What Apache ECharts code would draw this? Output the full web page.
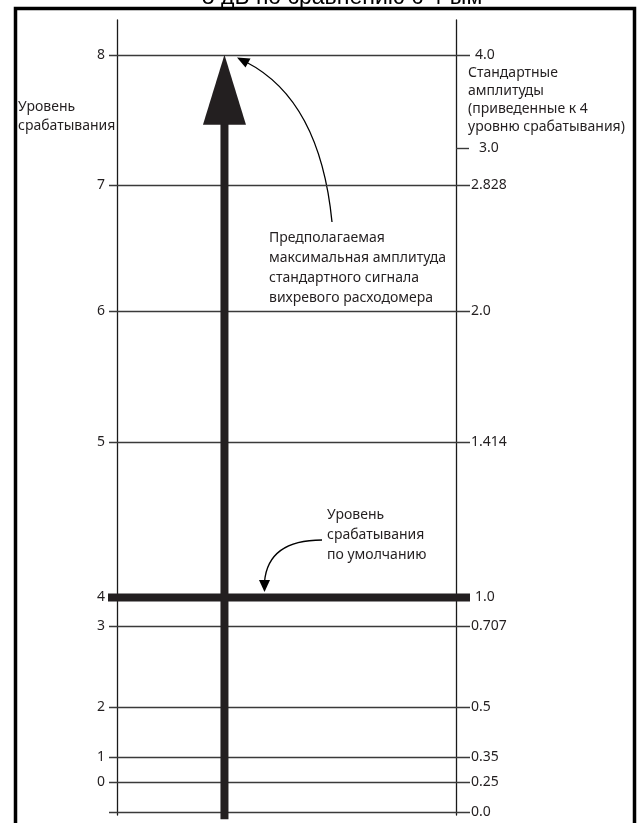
<!DOCTYPE html>
<html><head><meta charset="utf-8">
<script src="https://cdn.jsdelivr.net/npm/echarts@6/dist/echarts.min.js"></script>
<style>html,body{margin:0;padding:0;background:#fff}#c{width:639px;height:823px}</style>
</head><body><div id="c"></div>
<script>
// ---- data ----
const levels      = ['8', '7', '6', '5', '4', '3', '2', '1', '0', ''];
const amplitudes  = ['4.0', '2.828', '2.0', '1.414', '1.0', '0.707', '0.5', '0.35', '0.25', '0.0'];
const rowHeights  = [100, 82.76, 66.12, 48.81, 28.34, 24.5, 13.8, 7.2, 3.9, 0]; // diagram scale
const extraTickLabel = '3.0';
const extraTickHeight = 87.65;
const defaultLevel = '4';
const titleText = '8 дБ по сравнению с 4-ым';
const leftCaption = 'Уровень\nсрабатывания';
const rightCaption = 'Стандартные\nамплитуды\n(приведенные к 4\nуровню срабатывания)';
const maxCaption = 'Предполагаемая\nмаксимальная амплитуда\nстандартного сигнала\nвихревого расходомера';
const defaultCaption = 'Уровень\nсрабатывания\nпо умолчанию';

// ---- layout ----
const arrowAt = {x: 31.7, bottom: -0.95};
const ink = '#231f20', lineCol = '#3a3a3a';
const FONT = '"Noto Sans", sans-serif';

const chart = echarts.init(document.getElementById('c'));
const yAx = (pos) => ({type: 'value', min: -0.4, max: 104.6, position: pos,
  axisLine: {show: true, lineStyle: {color: '#1a1a1a', width: 1.3}},
  axisTick: {show: false}, axisLabel: {show: false}, splitLine: {show: false}});

const option = {
  animation: false,
  backgroundColor: '#fff',
  grid: {left: 117, right: 183, top: 20, bottom: 8},
  xAxis: {type: 'value', min: 0, max: 100, show: false},
  yAxis: [yAx('left'), yAx('right')],
  series: [
    {
      type: 'custom', clip: false, z: 2,
      data: rowHeights.map((h, i) => [0, h, i]),
      renderItem(params, api) {
        const h = api.value(1), i = api.value(2);
        const L = api.coord([0, h]), R = api.coord([100, h]);
        const thick = levels[i] === defaultLevel;
        const y = Math.round(L[1]) + 0.5;
        return {type: 'group', children: [
          {type: 'line', shape: {x1: L[0] - (thick ? 9 : 8), y1: y, x2: R[0] + 14, y2: y},
           style: {stroke: thick ? ink : lineCol, lineWidth: thick ? 8 : 1.4}},
          {type: 'text', style: {text: levels[i], x: L[0] - 12, y: y, align: 'right', verticalAlign: 'middle',
            font: '14px ' + FONT, fill: ink}},
          {type: 'text', style: {text: amplitudes[i], x: R[0] + ((thick || i === 0) ? 19 : 15), y: y, align: 'left', verticalAlign: 'middle',
            font: '14px ' + FONT, fill: ink}}
        ]};
      }
    },
    {
      type: 'custom', clip: false, z: 2,
      data: [[100, extraTickHeight]],
      renderItem(params, api) {
        const R = api.coord([100, api.value(1)]);
        const y = Math.round(R[1]) + 0.5;
        return {type: 'group', children: [
          {type: 'line', shape: {x1: R[0], y1: y, x2: R[0] + 13, y2: y}, style: {stroke: lineCol, lineWidth: 1.4}},
          {type: 'text', style: {text: extraTickLabel, x: R[0] + 23, y: y, align: 'left', verticalAlign: 'middle',
            font: '14px ' + FONT, fill: ink}}
        ]};
      }
    },
    {
      type: 'custom', clip: false, z: 5,
      data: [[arrowAt.x, arrowAt.bottom, rowHeights[0]]],
      renderItem(params, api) {
        const B = api.coord([api.value(0), api.value(1)]);
        const T = api.coord([api.value(0), api.value(2)]);
        const x = B[0], headH = 70, hw = 21.5, sw = 8;
        return {type: 'group', children: [
          {type: 'rect', shape: {x: x - sw / 2, y: T[1] + headH - 2, width: sw, height: B[1] - T[1] - headH + 2}, style: {fill: ink}},
          {type: 'polygon', shape: {points: [[x, T[1]], [x + hw, T[1] + headH], [x - hw, T[1] + headH]]}, style: {fill: ink}}
        ]};
      }
    }
  ],
  graphic: [
    {type: 'rect', shape: {x: 15.5, y: 8.5, width: 619, height: 840}, style: {fill: '#fff', stroke: '#000', lineWidth: 3.5}, z: -10},
    {type: 'text', style: {text: titleText, x: 342, y: 9, align: 'center', verticalAlign: 'bottom',
      font: '23px "Liberation Sans", Arial, sans-serif', fill: '#000'}, z: -11},
    {type: 'text', style: {text: leftCaption, x: 18, y: 97.5, verticalAlign: 'top', lineHeight: 19,
      font: '14px ' + FONT, fill: ink}},
    {type: 'text', style: {text: rightCaption, x: 468, y: 64, verticalAlign: 'top', lineHeight: 18,
      font: '14px ' + FONT, fill: ink}},
    {type: 'text', style: {text: maxCaption, x: 269, y: 228, verticalAlign: 'top', lineHeight: 20,
      font: '14px ' + FONT, fill: ink}},
    {type: 'text', style: {text: defaultCaption, x: 327, y: 505, verticalAlign: 'top', lineHeight: 20,
      font: '14px ' + FONT, fill: ink}},
    {type: 'bezierCurve', shape: {x1: 332, y1: 222, cpx1: 320, cpy1: 100, x2: 246, y2: 62},
      style: {stroke: '#000', lineWidth: 1.3, fill: null}},
    {type: 'polygon', shape: {points: [[237, 57.5], [250.5, 58.5], [245.5, 67.5]]}, style: {fill: '#000'}},
    {type: 'bezierCurve', shape: {x1: 322, y1: 540, cpx1: 268, cpy1: 540, x2: 264.5, y2: 582},
      style: {stroke: '#000', lineWidth: 1.3, fill: null}},
    {type: 'polygon', shape: {points: [[264.5, 592], [259, 580], [270, 580]]}, style: {fill: '#000'}}
  ]
};
chart.setOption(option);
</script>
</body></html>
